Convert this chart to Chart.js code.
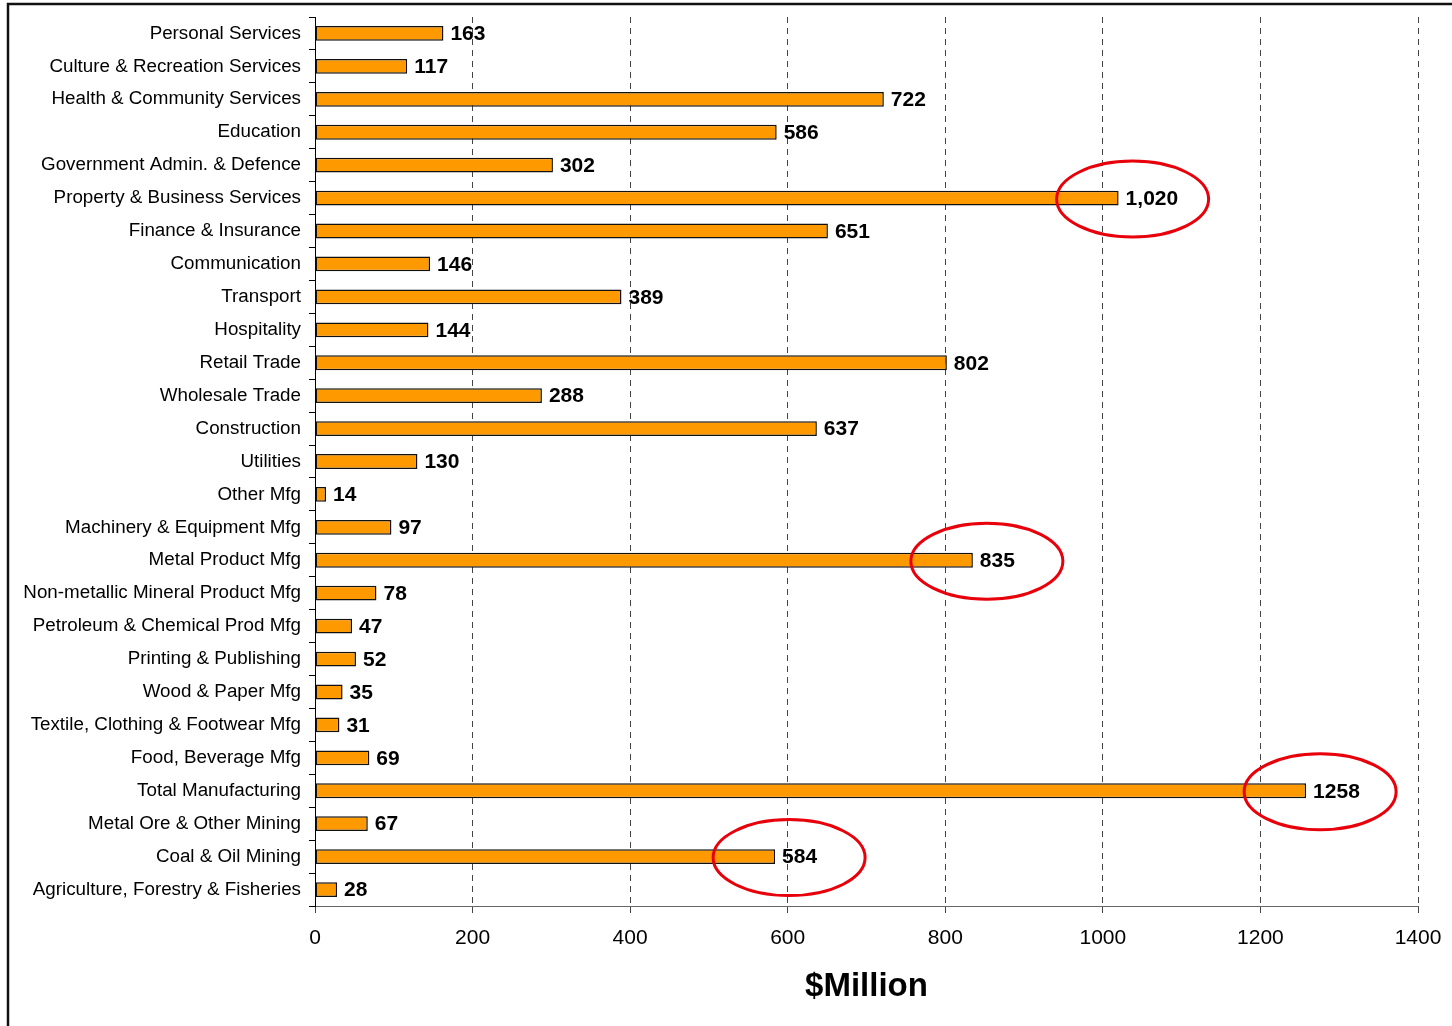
<!DOCTYPE html>
<html>
<head>
<meta charset="utf-8">
<script src="https://cdn.jsdelivr.net/npm/chart.js@4/dist/chart.umd.min.js"></script>
<style>
  body { margin: 0; background: #fff; }
  #wrap { width: 1452px; height: 1026px; position: relative; }
</style>
</head>
<body>
<div id="wrap"><canvas id="chart" width="1452" height="1026"></canvas></div>
<script>
// Industry categories, top to bottom
const categories = [
    'Personal Services', 'Culture & Recreation Services', 'Health & Community Services',
    'Education', 'Government Admin. & Defence', 'Property & Business Services',
    'Finance & Insurance', 'Communication', 'Transport', 'Hospitality', 'Retail Trade',
    'Wholesale Trade', 'Construction', 'Utilities', 'Other Mfg', 'Machinery & Equipment Mfg',
    'Metal Product Mfg', 'Non-metallic Mineral Product Mfg', 'Petroleum & Chemical Prod Mfg',
    'Printing & Publishing', 'Wood & Paper Mfg', 'Textile, Clothing & Footwear Mfg',
    'Food, Beverage Mfg', 'Total Manufacturing', 'Metal Ore & Other Mining',
    'Coal & Oil Mining', 'Agriculture, Forestry & Fisheries'
];
const values = [163, 117, 722, 586, 302, 1020, 651, 146, 389, 144, 802, 288, 637, 130, 14, 97,
    835, 78, 47, 52, 35, 31, 69, 1258, 67, 584, 28];
const valueLabels = ['163', '117', '722', '586', '302', '1,020', '651', '146', '389', '144', '802',
    '288', '637', '130', '14', '97', '835', '78', '47', '52', '35', '31', '69', '1258', '67', '584', '28'];
const xTicks = [0, 200, 400, 600, 800, 1000, 1200, 1400];
const circled = ['Property & Business Services', 'Metal Product Mfg', 'Total Manufacturing', 'Coal & Oil Mining'];

const FONT = '"Liberation Sans", Arial, sans-serif';

// outer frame
const framePlugin = {
    id: 'frame',
    beforeDraw(chart) {
        const ctx = chart.ctx;
        ctx.save();
        ctx.fillStyle = '#fff';
        ctx.fillRect(0, 0, chart.width, chart.height);
        ctx.strokeStyle = '#111';
        ctx.lineWidth = 2.5;
        ctx.beginPath();
        ctx.moveTo(8, chart.height + 10);
        ctx.lineTo(8, 4);
        ctx.lineTo(chart.width + 10, 4);
        ctx.stroke();
        ctx.restore();
    }
};

// value labels at bar ends + red rings
const labelPlugin = {
    id: 'barLabels',
    afterDatasetsDraw(chart) {
        const ctx = chart.ctx;
        const meta = chart.getDatasetMeta(0);
        ctx.save();
        ctx.font = 'bold 21px ' + FONT;
        ctx.fillStyle = '#000';
        ctx.textBaseline = 'middle';
        ctx.textAlign = 'left';
        meta.data.forEach((bar, i) => {
            ctx.fillText(valueLabels[i], bar.x + 7, bar.y + 1);
        });
        ctx.strokeStyle = '#e8000b';
        ctx.lineWidth = 3;
        circled.forEach(name => {
            const i = categories.indexOf(name);
            const bar = meta.data[i];
            ctx.beginPath();
            ctx.ellipse(bar.x + 14, bar.y + 1, 76, 38, 0, 0, Math.PI * 2);
            ctx.stroke();
        });
        ctx.restore();
    }
};

new Chart(document.getElementById('chart'), {
    type: 'bar',
    data: {
        labels: categories,
        datasets: [{
            data: values,
            backgroundColor: '#ff9900',
            borderColor: '#111',
            borderWidth: 1.5,
            borderSkipped: false,
            barPercentage: 0.45,
            categoryPercentage: 1
        }]
    },
    options: {
        indexAxis: 'y',
        responsive: false,
        animation: false,
        layout: { padding: { top: 17, right: 34, left: 0, bottom: 0 } },
        plugins: {
            legend: { display: false },
            tooltip: { enabled: false }
        },
        scales: {
            x: {
                min: 0,
                max: 1400,
                afterFit: scale => {
                    scale.height = 120;
                    scale.paddingLeft = 0;
                    scale.paddingRight = 0;
                },
                afterBuildTicks: scale => { scale.ticks = xTicks.map(v => ({ value: v })); },
                grid: {
                    color: ctx => ctx.tick && ctx.tick.value === 0 ? 'rgba(0,0,0,0)' : '#444',
                    tickColor: '#444',
                    tickLength: 7
                },
                border: { color: '#666', width: 1, dash: [6, 5] },
                ticks: {
                    color: '#000',
                    padding: 13,
                    font: { family: FONT, size: 21 },
                    callback: v => String(v)
                },
                title: {
                    display: true,
                    text: '$Million',
                    color: '#000',
                    font: { family: FONT, size: 33, weight: 'bold' },
                    padding: { top: 0, bottom: 19 }
                }
            },
            y: {
                afterFit: scale => {
                    scale.width = 315;
                    scale.paddingTop = 0;
                    scale.paddingBottom = 0;
                },
                grid: {
                    drawOnChartArea: false,
                    offset: true,
                    tickColor: '#000',
                    tickLength: 6
                },
                border: { color: '#000', width: 1 },
                ticks: {
                    color: '#000',
                    padding: 8,
                    autoSkip: false,
                    font: { family: FONT, size: 18.8 }
                }
            }
        }
    },
    plugins: [framePlugin, labelPlugin]
});
</script>
</body>
</html>
